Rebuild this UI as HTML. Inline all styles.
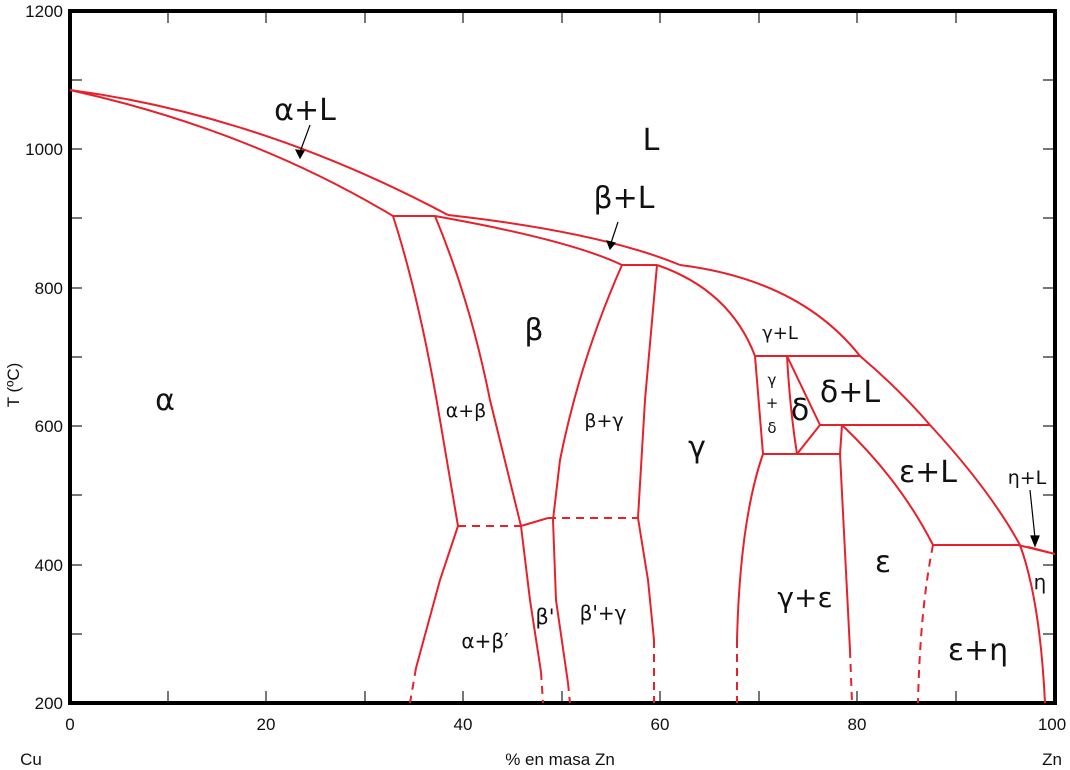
<!DOCTYPE html>
<html><head><meta charset="utf-8"><style>
body{margin:0;background:#fff;}
svg{display:block;font-family:"Liberation Sans","DejaVu Sans",sans-serif;}
</style></head><body>
<svg width="1070" height="770" viewBox="0 0 1070 770" xmlns="http://www.w3.org/2000/svg">
<g stroke="#777" stroke-width="2">
<path d="M168 703v-12M266 703v-12M365 703v-12M463 703v-12M562 703v-12M660 703v-12M759 703v-12M857 703v-12M956 703v-12"/>
<path d="M168 11v12M266 11v12M365 11v12M463 11v12M562 11v12M660 11v12M759 11v12M857 11v12M956 11v12"/>
<path d="M70 80h12M70 149h12M70 218h12M70 288h12M70 357h12M70 426h12M70 495h12M70 565h12M70 634h12"/>
<path d="M1055 80h-12M1055 149h-12M1055 218h-12M1055 288h-12M1055 357h-12M1055 426h-12M1055 495h-12M1055 565h-12M1055 634h-12"/>
</g>
<rect x="70" y="11" width="985" height="692" fill="none" stroke="#000" stroke-width="4"/>
<g fill="none" stroke="#e8202a" stroke-width="2">
<path d="M70 90 Q260 115 448 215"/>
<path d="M70 90 Q250 130 393 216"/>
<path d="M393 216H435"/>
<path d="M448 215 Q600 232 680 265"/>
<path d="M435 216 Q570 240 622 265"/>
<path d="M622 265H657"/>
<path d="M680 265 Q800 280 860 356 Q900 390 930 425 Q990 490 1020 545"/>
<path d="M393 216 Q420 300 440 420 L458 526 L440 580 L416 668"/>
<path d="M435 216 Q470 300 490 400 L521 526 L530 600 L541 672"/>
<path d="M622 265 Q580 360 560 460 L553 520 L556 600 L568 683"/>
<path d="M657 265 L645 400 L638 518 L648 580 L654 640"/>
<path d="M657 265 Q730 290 755 356"/>
<path d="M755 356H860"/>
<path d="M755 356 L763 454"/>
<path d="M787 356 Q790 410 797 454"/>
<path d="M787 356 L820 425 L797 454"/>
<path d="M820 425H930"/>
<path d="M763 454H840"/>
<path d="M842 425 L840 454 L850 650"/>
<path d="M842 425 Q900 480 933 545"/>
<path d="M763 454 Q740 520 737 640"/>
<path d="M933 545H1020"/>
<path d="M1020 545 Q1040 600 1045 703"/>
<path d="M1018 545 L1055 554 M1028 547 L1055 554"/>
<path d="M521 526 L548 518"/>
</g>
<g fill="none" stroke="#e8202a" stroke-width="2" stroke-dasharray="8 6">
<path d="M458 526H521"/>
<path d="M548 518H638"/>
<path d="M416 668 L410 703"/>
<path d="M541 672 L543 703"/>
<path d="M568 683 L570 703"/>
<path d="M654 640 L654 703"/>
<path d="M737 640 L737 703"/>
<path d="M850 650 L852 703"/>
<path d="M933 545 Q920 610 918 703"/>
</g>
<g stroke="#000" stroke-width="1.2" fill="#000">
<path d="M310 125 L300 152" fill="none"/><path d="M296 150 L300 158 L304 151Z"/>
<path d="M618 222 L611 243" fill="none"/><path d="M607 241 L610 249 L615 243Z"/>
<path d="M1030 490 L1035 538" fill="none"/><path d="M1031 536 L1035 546 L1039 536Z"/>
</g>
<g fill="#111" font-size="17" text-anchor="end">
<text x="63" y="17">1200</text><text x="63" y="155">1000</text><text x="63" y="294">800</text>
<text x="63" y="432">600</text><text x="63" y="571">400</text><text x="63" y="709">200</text>
</g>
<g fill="#111" font-size="17" text-anchor="middle">
<text x="70" y="730">0</text><text x="266" y="730">20</text><text x="463" y="730">40</text>
<text x="660" y="730">60</text><text x="857" y="730">80</text><text x="1052" y="730">100</text>
<text x="31" y="765">Cu</text><text x="1052" y="765">Zn</text>
<text x="560" y="765">% en masa Zn</text>
<text transform="translate(19,385) rotate(-90)">T (ºC)</text>
</g>
<g fill="#111" text-anchor="middle" font-family="'DejaVu Sans','Liberation Sans',sans-serif">
<text x="651" y="150" font-size="30">L</text>
<text x="305" y="120" font-size="30">α+L</text>
<text x="624" y="208" font-size="30">β+L</text>
<text x="534" y="340" font-size="30">β</text>
<text x="165" y="410" font-size="30">α</text>
<text x="466" y="417" font-size="19">α+β</text>
<text x="604" y="427" font-size="19">β+γ</text>
<text x="697" y="457" font-size="30">γ</text>
<text x="780" y="339" font-size="18">γ+L</text>
<text x="772" y="385" font-size="15">γ</text>
<text x="772" y="408" font-size="15">+</text>
<text x="772" y="433" font-size="15">δ</text>
<text x="800" y="420" font-size="30">δ</text>
<text x="850" y="402" font-size="30">δ+L</text>
<text x="928" y="482" font-size="30">ε+L</text>
<text x="1027" y="484" font-size="19">η+L</text>
<text x="883" y="572" font-size="30">ε</text>
<text x="1040" y="589" font-size="20">η</text>
<text x="805" y="607" font-size="28">γ+ε</text>
<text x="545" y="624" font-size="21">β'</text>
<text x="603" y="620" font-size="20">β'+γ</text>
<text x="485" y="648" font-size="20">α+β′</text>
<text x="978" y="660" font-size="30">ε+η</text>
</g>
</svg>
</body></html>
